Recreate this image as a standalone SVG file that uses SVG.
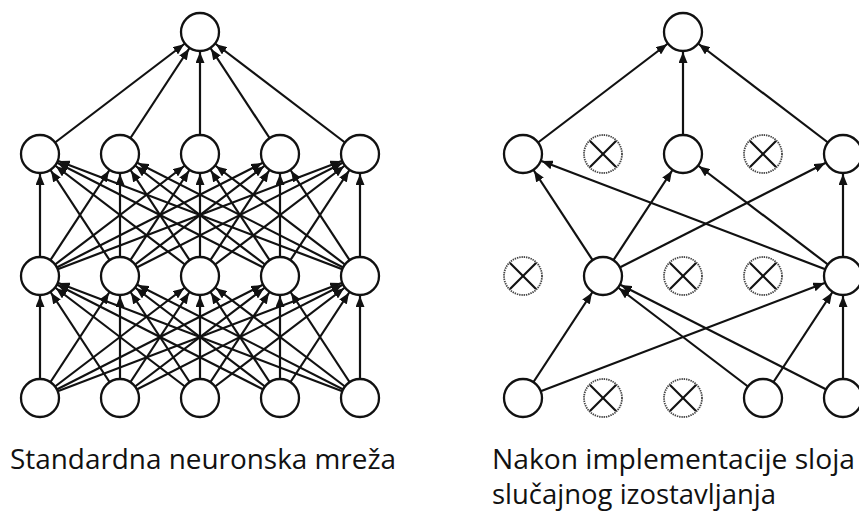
<svg xmlns="http://www.w3.org/2000/svg" width="859" height="515" viewBox="0 0 859 515">
<style>
.c line{stroke:#111;stroke-width:2.2;marker-end:url(#ah)}
.n{fill:#fff;stroke:#111;stroke-width:2.3}
.xc{fill:#fff;stroke:#444;stroke-width:1.8;stroke-dasharray:1.4 0.9}
.xl{stroke:#111;stroke-width:2.2}
.t{font-family:"Open Sans","Noto Sans",sans-serif;font-size:28px;fill:#111}
</style>
<defs>
<marker id="ah" markerUnits="userSpaceOnUse" markerWidth="11" markerHeight="9" refX="31" refY="4.5" orient="auto">
<path d="M0,0 L11,4.5 L0,9 z" fill="#111"/>
</marker>
<circle id="nd" r="19" class="n"/>
<g id="xd"><circle r="19" class="xc"/><line class="xl" x1="-13" y1="-13" x2="13" y2="13"/><line class="xl" x1="13" y1="-13" x2="-13" y2="13"/></g>
</defs>
<g id="connectors" class="c">
<line x1="40" y1="154" x2="200" y2="32"/><line x1="120" y1="154" x2="200" y2="32"/><line x1="200" y1="154" x2="200" y2="32"/><line x1="280" y1="154" x2="200" y2="32"/><line x1="360" y1="154" x2="200" y2="32"/>
<line x1="40" y1="276" x2="40" y2="154"/><line x1="40" y1="276" x2="120" y2="154"/><line x1="40" y1="276" x2="200" y2="154"/><line x1="40" y1="276" x2="280" y2="154"/><line x1="40" y1="276" x2="360" y2="154"/>
<line x1="120" y1="276" x2="40" y2="154"/><line x1="120" y1="276" x2="120" y2="154"/><line x1="120" y1="276" x2="200" y2="154"/><line x1="120" y1="276" x2="280" y2="154"/><line x1="120" y1="276" x2="360" y2="154"/>
<line x1="200" y1="276" x2="40" y2="154"/><line x1="200" y1="276" x2="120" y2="154"/><line x1="200" y1="276" x2="200" y2="154"/><line x1="200" y1="276" x2="280" y2="154"/><line x1="200" y1="276" x2="360" y2="154"/>
<line x1="280" y1="276" x2="40" y2="154"/><line x1="280" y1="276" x2="120" y2="154"/><line x1="280" y1="276" x2="200" y2="154"/><line x1="280" y1="276" x2="280" y2="154"/><line x1="280" y1="276" x2="360" y2="154"/>
<line x1="360" y1="276" x2="40" y2="154"/><line x1="360" y1="276" x2="120" y2="154"/><line x1="360" y1="276" x2="200" y2="154"/><line x1="360" y1="276" x2="280" y2="154"/><line x1="360" y1="276" x2="360" y2="154"/>
<line x1="40" y1="398" x2="40" y2="276"/><line x1="40" y1="398" x2="120" y2="276"/><line x1="40" y1="398" x2="200" y2="276"/><line x1="40" y1="398" x2="280" y2="276"/><line x1="40" y1="398" x2="360" y2="276"/>
<line x1="120" y1="398" x2="40" y2="276"/><line x1="120" y1="398" x2="120" y2="276"/><line x1="120" y1="398" x2="200" y2="276"/><line x1="120" y1="398" x2="280" y2="276"/><line x1="120" y1="398" x2="360" y2="276"/>
<line x1="200" y1="398" x2="40" y2="276"/><line x1="200" y1="398" x2="120" y2="276"/><line x1="200" y1="398" x2="200" y2="276"/><line x1="200" y1="398" x2="280" y2="276"/><line x1="200" y1="398" x2="360" y2="276"/>
<line x1="280" y1="398" x2="40" y2="276"/><line x1="280" y1="398" x2="120" y2="276"/><line x1="280" y1="398" x2="200" y2="276"/><line x1="280" y1="398" x2="280" y2="276"/><line x1="280" y1="398" x2="360" y2="276"/>
<line x1="360" y1="398" x2="40" y2="276"/><line x1="360" y1="398" x2="120" y2="276"/><line x1="360" y1="398" x2="200" y2="276"/><line x1="360" y1="398" x2="280" y2="276"/><line x1="360" y1="398" x2="360" y2="276"/>
<line x1="523" y1="154" x2="683" y2="32"/><line x1="683" y1="154" x2="683" y2="32"/><line x1="843" y1="154" x2="683" y2="32"/>
<line x1="603" y1="276" x2="523" y2="154"/><line x1="603" y1="276" x2="683" y2="154"/><line x1="603" y1="276" x2="843" y2="154"/>
<line x1="843" y1="276" x2="523" y2="154"/><line x1="843" y1="276" x2="683" y2="154"/><line x1="843" y1="276" x2="843" y2="154"/>
<line x1="523" y1="398" x2="603" y2="276"/><line x1="523" y1="398" x2="843" y2="276"/>
<line x1="763" y1="398" x2="603" y2="276"/><line x1="763" y1="398" x2="843" y2="276"/>
<line x1="843" y1="398" x2="603" y2="276"/><line x1="843" y1="398" x2="843" y2="276"/>
</g>
<g id="std-out"><use href="#nd" x="200" y="32"/></g>
<g id="std-h1"><use href="#nd" x="40" y="154"/><use href="#nd" x="120" y="154"/><use href="#nd" x="200" y="154"/><use href="#nd" x="280" y="154"/><use href="#nd" x="360" y="154"/></g>
<g id="std-h2"><use href="#nd" x="40" y="276"/><use href="#nd" x="120" y="276"/><use href="#nd" x="200" y="276"/><use href="#nd" x="280" y="276"/><use href="#nd" x="360" y="276"/></g>
<g id="std-in"><use href="#nd" x="40" y="398"/><use href="#nd" x="120" y="398"/><use href="#nd" x="200" y="398"/><use href="#nd" x="280" y="398"/><use href="#nd" x="360" y="398"/></g>
<g id="drop-out"><use href="#nd" x="683" y="32"/></g>
<g id="drop-h1"><use href="#nd" x="523" y="154"/><use href="#nd" x="683" y="154"/><use href="#nd" x="843" y="154"/></g>
<g id="drop-h2"><use href="#nd" x="603" y="276"/><use href="#nd" x="843" y="276"/></g>
<g id="drop-in"><use href="#nd" x="523" y="398"/><use href="#nd" x="763" y="398"/><use href="#nd" x="843" y="398"/></g>
<g id="dropped">
<use href="#xd" x="603" y="154"/><use href="#xd" x="763" y="154"/>
<use href="#xd" x="523" y="276"/><use href="#xd" x="683" y="276"/><use href="#xd" x="763" y="276"/>
<use href="#xd" x="603" y="398"/><use href="#xd" x="683" y="398"/>
</g>
<g id="labels">
<text class="t" x="10" y="469" textLength="386" lengthAdjust="spacingAndGlyphs">Standardna neuronska mreža</text>
<text class="t" x="492" y="469" textLength="363" lengthAdjust="spacingAndGlyphs">Nakon implementacije sloja</text>
<text class="t" x="492" y="504" textLength="284" lengthAdjust="spacingAndGlyphs">slučajnog izostavljanja</text>
</g>
</svg>
